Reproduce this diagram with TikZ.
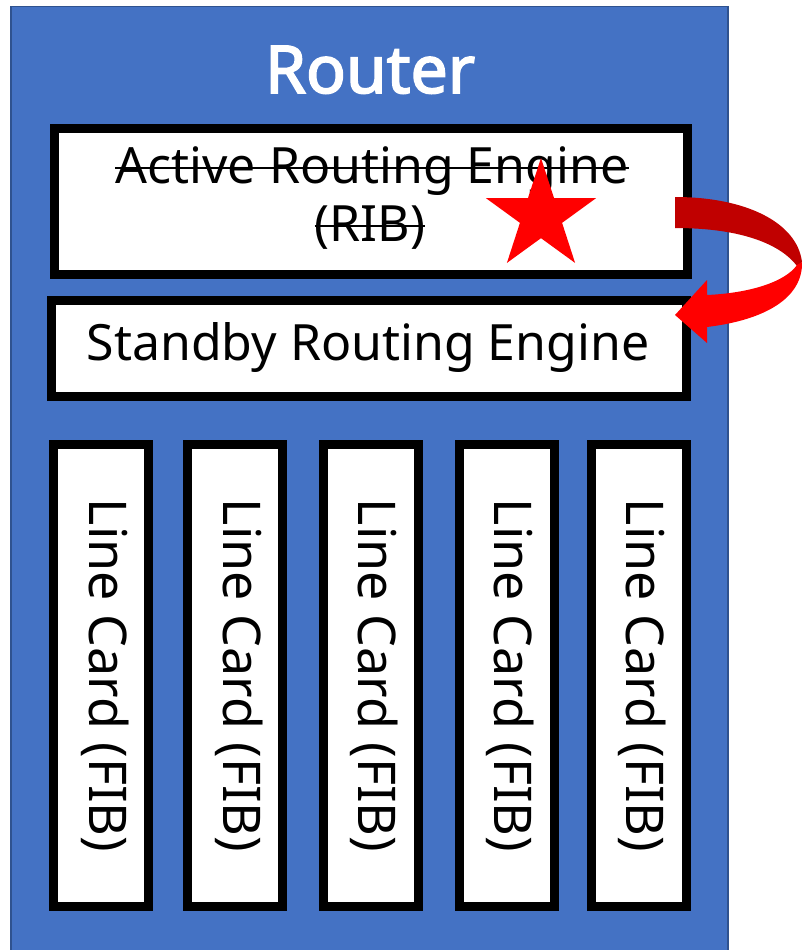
\documentclass[tikz,border=0pt]{standalone}
\usepackage{fontspec}
\setmainfont{Noto Sans}
\newfontfamily\titlefont{Noto Sans}[FakeBold=2.6]
\usetikzlibrary{shapes.geometric}
\definecolor{chassis}{HTML}{4472C4}
\definecolor{chassisedge}{HTML}{2F528F}
\definecolor{arrowdark}{HTML}{C00000}
\definecolor{arrowlight}{HTML}{FF0000}
\begin{document}
\begin{tikzpicture}[x=1pt,y=-1pt,
  slot/.style={draw=black, line width=9pt, fill=white, inner sep=0pt},
  label/.style={inner sep=0pt, font=\fontsize{50}{60}\selectfont},
  cardlabel/.style={inner sep=0pt, font=\fontsize{52}{62}\selectfont, rotate=-90, anchor=base},
  strike/.style={line width=2.2pt}]
\useasboundingbox (0,0) rectangle (802,950);
\clip (0,0) rectangle (802,950);
\fill[white] (0,0) rectangle (802,950);

% router chassis
\node[draw=chassisedge, line width=1.5pt, fill=chassis, inner sep=0pt,
      minimum width=717pt, minimum height=980pt, anchor=north west] (router) at (10,6) {};
\node[anchor=base, inner sep=0pt, text=white,
      font=\titlefont\fontsize{66}{72}\selectfont] (title) at (370,93) {Router};

% routing engines
\node[slot, minimum width=633pt, minimum height=146pt] (active) at (371,201.5) {};
\node[label, anchor=base] (act1) at (372,183) {Active Routing Engine};
\node[label, anchor=base] (act2) at (370,241) {(RIB)};
\draw[strike] ([yshift=15pt]act1.base west) -- ([yshift=15pt]act1.base east);
\draw[strike] ([yshift=15pt]act2.base west) -- ([yshift=15pt]act2.base east);

\node[slot, minimum width=635pt, minimum height=96pt] (standby) at (369,348.5) {};
\node[label, anchor=base] (stby) at (368,360) {Standby Routing Engine};

% line cards
\foreach \i/\cx in {1/101, 2/235, 3/370.5, 4/506.5, 5/638.5}{
  \node[slot, minimum width=95pt, minimum height=462pt] (card\i) at (\cx,675.5) {};
  \node[cardlabel] (cardtext\i) at (\cx-12,675.5) {Line Card (FIB)};
}

% failure marker
\node[star, star points=5, star point ratio=2.618, fill=arrowlight, draw=none,
      minimum size=116pt, inner sep=0pt] (fail) at (541,216) {};

% switchover arrow
\fill[arrowdark] (675,197) .. controls (745,197) and (797,222) .. (802,262)
  -- (797,266) .. controls (782,246) and (745,228) .. (675,228) -- cycle;
\fill[arrowlight] (797,265) .. controls (785,282) and (750,293) .. (707,295)
  -- (707,280) -- (675,315) -- (707,343) -- (707,327)
  .. controls (765,320) and (803,298) .. (802,262) -- cycle;
\end{tikzpicture}
\end{document}
